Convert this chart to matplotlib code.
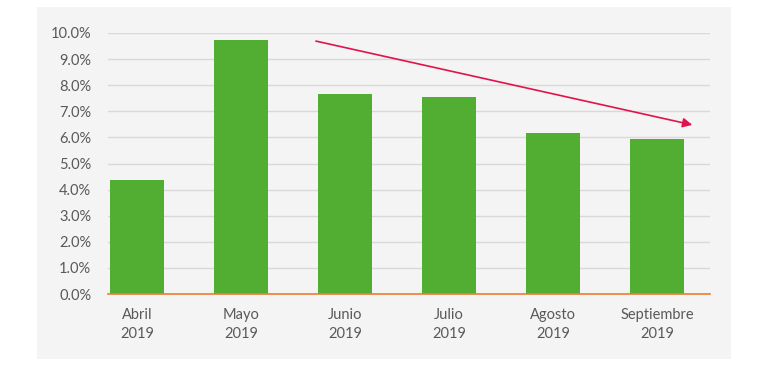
import matplotlib.pyplot as plt
from matplotlib.patches import Rectangle
from matplotlib.ticker import PercentFormatter

meses = ['Abril\n2019', 'Mayo\n2019', 'Junio\n2019', 'Julio\n2019',
         'Agosto\n2019', 'Septiembre\n2019']
valores = [4.37, 9.73, 7.66, 7.55, 6.17, 5.92]

plt.rcParams['font.family'] = ['Lato', 'DejaVu Sans']

fig = plt.figure(figsize=(7.7, 3.67), dpi=100)
fig.patch.set_facecolor('white')
# gray panel behind the chart
fig.patches.append(Rectangle((37 / 770, 8 / 367), 694 / 770, 352 / 367,
                             transform=fig.transFigure, facecolor='#f4f4f4',
                             edgecolor='none', zorder=-1))

ax = fig.add_axes([108 / 770, 1 - 294 / 367, 602 / 770, 261 / 367])
ax.set_facecolor('none')

x = range(len(meses))
ax.bar(x, valores, width=0.52, color='#52ae32', zorder=2)

ax.set_xlim(-0.28, 5.51)
ax.set_ylim(0, 10)
ax.set_yticks([i for i in range(11)])
ax.yaxis.set_major_formatter(PercentFormatter(decimals=1))
ax.set_xticks(list(x))
ax.set_xticklabels(meses, linespacing=1.5)

ax.grid(axis='y', color='#d9d9d9', linewidth=1, zorder=0)
for s in ['top', 'right', 'left']:
    ax.spines[s].set_visible(False)
ax.spines['bottom'].set_color('#ed7d31')
ax.spines['bottom'].set_linewidth(1.2)
ax.spines['bottom'].set_zorder(3)
ax.tick_params(axis='both', length=0, labelsize=10.5, colors='#595959')
ax.tick_params(axis='x', pad=10)
ax.tick_params(axis='y', pad=12)

# trend arrow
ax.annotate('', xy=(5.34, 6.48), xytext=(1.72, 9.69),
            arrowprops=dict(arrowstyle='-|>', color='#e0144c', lw=1.2,
                            mutation_scale=14, shrinkA=0, shrinkB=0),
            zorder=4)

fig.savefig('out.png', dpi=100)
